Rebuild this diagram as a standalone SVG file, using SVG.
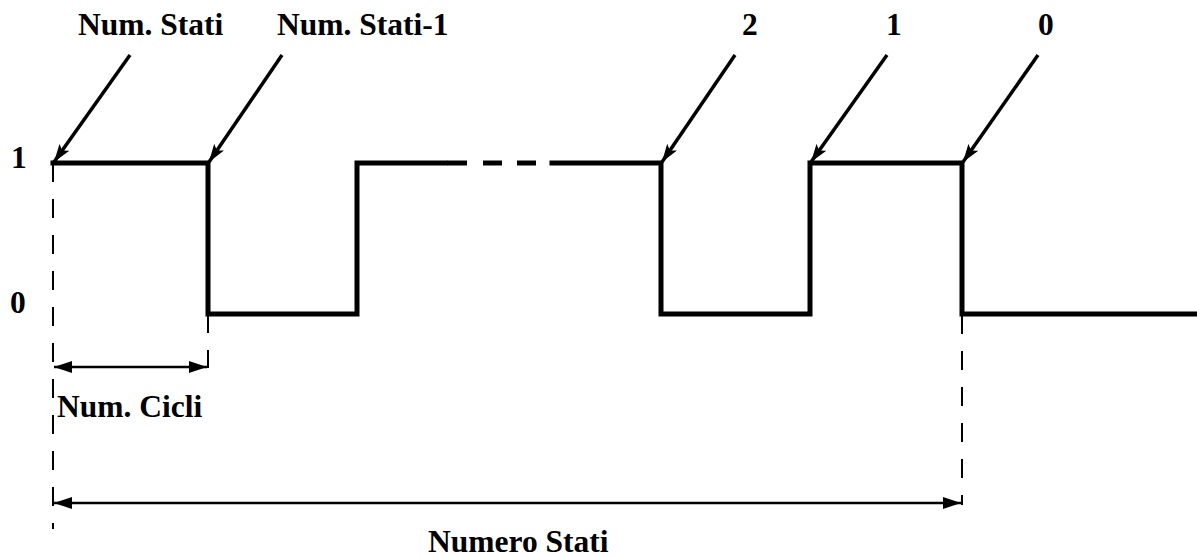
<svg xmlns="http://www.w3.org/2000/svg" width="1197" height="558" viewBox="0 0 1197 558">
  <style>
    .t { font-family: "Liberation Serif", "Times New Roman", serif; font-weight: bold; font-size: 31.5px; fill: #000; }
    .sig { fill: none; stroke: #000; stroke-width: 5; stroke-linejoin: miter; stroke-linecap: square; }
    .dashsig { stroke: #000; stroke-width: 5; }
    .ptr { stroke: #000; stroke-width: 3.5; fill: none; }
    .dim { stroke: #000; stroke-width: 2.5; fill: none; }
    .guide { stroke: #000; stroke-width: 2; fill: none; stroke-dasharray: 19 17; }
  </style>
  <defs>
    <marker id="ah" viewBox="0 0 18 12" refX="18" refY="6" markerWidth="18" markerHeight="12" markerUnits="userSpaceOnUse" orient="auto">
      <path d="M0,0 L18,6 L0,12 L4,6 z" fill="#000"/>
    </marker>
    <marker id="dh" viewBox="0 0 18 12" refX="18" refY="6" markerWidth="18" markerHeight="12" markerUnits="userSpaceOnUse" orient="auto-start-reverse">
      <path d="M0,0 L18,6 L0,12 z" fill="#000"/>
    </marker>
  </defs>

  <g id="axis-labels">
    <text class="t" x="11" y="168">1</text>
    <text class="t" x="10" y="313">0</text>
  </g>

  <g id="signal">
    <path class="sig" d="M53,163 H208 V314 H357 V163 H445"/>
    <line class="dashsig" x1="447" y1="163" x2="467" y2="163"/>
    <line class="dashsig" x1="483" y1="163" x2="502" y2="163"/>
    <line class="dashsig" x1="517" y1="163" x2="536" y2="163"/>
    <path class="sig" d="M552,163 H661 V314 H810 V163 H962 V314 H1197"/>
  </g>

  <g id="guides">
    <line class="guide" x1="53" y1="163" x2="53" y2="529"/>
    <line class="guide" x1="208" y1="314" x2="208" y2="368" stroke-dasharray="17 17"/>
    <line class="guide" x1="962" y1="315" x2="962" y2="505" stroke-dasharray="18 16"/>
  </g>

  <g id="connectors">
    <line class="ptr" x1="130" y1="55" x2="54" y2="162" marker-end="url(#ah)"/>
    <line class="ptr" x1="282" y1="55" x2="209" y2="162" marker-end="url(#ah)"/>
    <line class="ptr" x1="735" y1="55" x2="662" y2="162" marker-end="url(#ah)"/>
    <line class="ptr" x1="887" y1="55" x2="811" y2="162" marker-end="url(#ah)"/>
    <line class="ptr" x1="1038" y1="55" x2="963" y2="162" marker-end="url(#ah)"/>
    <line class="dim" x1="54" y1="367" x2="207" y2="367" marker-start="url(#dh)" marker-end="url(#dh)"/>
    <line class="dim" x1="54" y1="503" x2="961" y2="503" marker-start="url(#dh)" marker-end="url(#dh)"/>
  </g>

  <g id="label-num-stati"><text class="t" x="78" y="35">Num. Stati</text></g>
  <g id="label-num-stati-1"><text class="t" x="277" y="35">Num. Stati-1</text></g>
  <g id="label-2"><text class="t" x="742" y="35">2</text></g>
  <g id="label-1"><text class="t" x="886" y="35">1</text></g>
  <g id="label-0"><text class="t" x="1038" y="35">0</text></g>
  <g id="label-num-cicli"><text class="t" x="57" y="417">Num. Cicli</text></g>
  <g id="label-numero-stati"><text class="t" x="428" y="552">Numero Stati</text></g>
</svg>
